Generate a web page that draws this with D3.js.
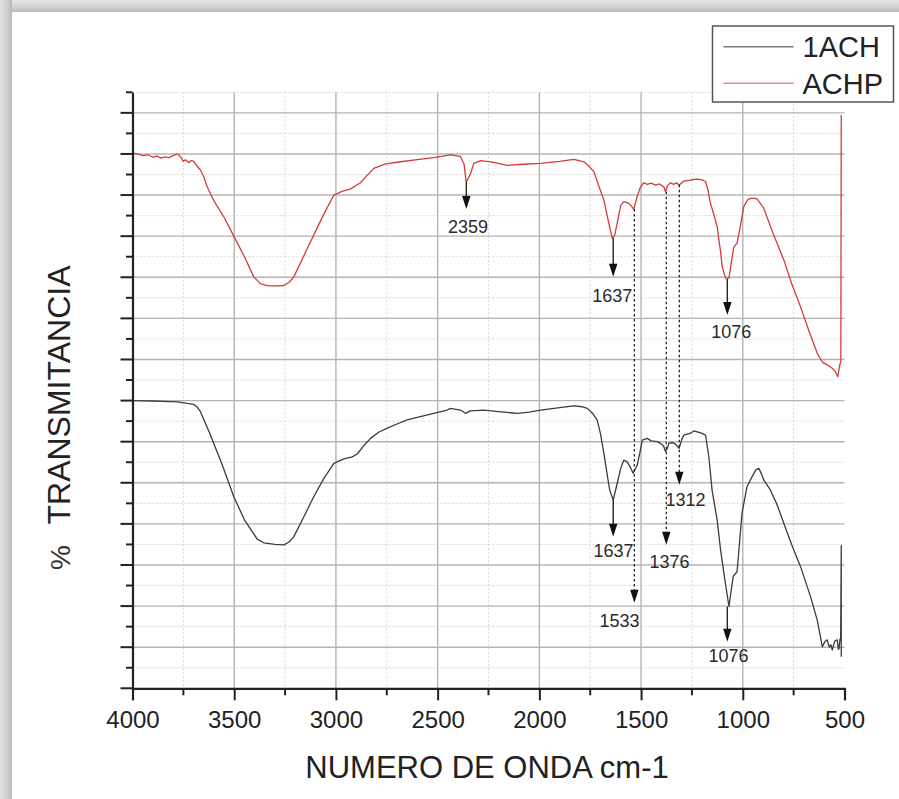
<!DOCTYPE html>
<html>
<head>
<meta charset="utf-8">
<script src="https://cdn.jsdelivr.net/npm/d3@7"></script>
<style>
  html, body { margin: 0; padding: 0; background: #fff; }
  svg { display: block; font-family: "Liberation Sans", Arial, Helvetica, sans-serif; }
</style>
</head>
<body>
<svg id="chart" width="899" height="799"></svg>
<script>
// ---- FTIR spectra: [wavenumber cm-1, transmittance (arbitrary units)] ----
const spectrumACHP = [
  [4000,130.2],[3975,130.0],[3950,129.6],[3925,129.8],[3900,129.2],[3880,129.5],[3860,129.0],
  [3840,129.3],[3820,129.1],[3800,129.6],[3780,130.0],[3765,129.4],[3750,128.2],[3740,128.6],
  [3725,127.9],[3710,128.4],[3699,128.2],[3685,127.2],[3666,126.1],[3650,124.5],[3633,122.0],
  [3600,118.6],[3550,114.6],[3502,110.0],[3450,105.0],[3404,100.1],[3370,98.4],[3330,97.9],
  [3290,97.9],[3256,98.0],[3230,98.8],[3207,100.1],[3160,105.0],[3109,110.3],[3060,115.3],
  [3010,120.0],[2970,120.9],[2928,121.5],[2879,123.0],[2850,124.6],[2814,126.5],[2760,127.5],
  [2683,128.1],[2600,128.6],[2519,129.1],[2437,129.8],[2388,129.4],[2370,127.5],[2360,123.2],
  [2350,124.0],[2340,125.0],[2322,127.7],[2289,128.4],[2230,128.0],[2158,127.2],[2080,127.5],
  [1994,127.7],[1900,128.2],[1830,128.7],[1800,128.3],[1781,128.1],[1760,127.2],[1732,125.7],
  [1710,122.5],[1683,118.8],[1660,113.5],[1642,109.5],[1630,110.2],[1620,112.5],[1600,117.5],
  [1585,118.4],[1565,118.1],[1550,117.5],[1536,116.5],[1520,119.5],[1503,122.0],[1486,123.0],
  [1470,122.6],[1450,122.9],[1430,122.4],[1410,122.7],[1388,122.0],[1380,120.8],[1370,122.3],
  [1355,123.0],[1340,122.6],[1325,123.0],[1313,122.4],[1300,123.0],[1290,123.4],[1260,123.6],
  [1240,123.8],[1224,123.9],[1200,123.7],[1183,123.3],[1170,121.0],[1159,118.0],[1142,115.2],
  [1126,112.3],[1110,106.5],[1101,102.6],[1085,99.8],[1068,99.8],[1055,104.0],[1044,107.4],
  [1028,108.3],[1010,113.0],[995,117.2],[975,118.9],[962,119.2],[940,119.2],[929,119.0],
  [897,116.8],[850,110.5],[798,104.2],[760,98.5],[716,92.8],[675,87.0],[634,81.5],[610,79.5],
  [602,79.1],[585,78.7],[569,78.2],[555,77.6],[545,77.0],[533,75.8],[523,78.7],[518,79.5],
  [516,139.5]
];

const spectrum1ACH = [
  [4000,70.0],[3900,69.9],[3850,69.8],[3780,69.7],[3731,69.3],[3699,69.1],[3680,68.3],
  [3666,67.3],[3620,62.0],[3560,54.5],[3502,46.6],[3450,41.0],[3387,36.3],[3355,35.4],
  [3300,35.0],[3256,34.9],[3230,35.6],[3207,36.9],[3160,41.5],[3109,46.6],[3060,51.0],
  [3010,54.7],[2961,55.8],[2920,56.3],[2895,57.0],[2860,59.2],[2830,60.8],[2790,62.3],
  [2748,63.3],[2700,64.3],[2650,65.3],[2550,66.5],[2453,67.7],[2437,68.1],[2388,67.7],
  [2363,66.9],[2339,67.5],[2273,67.7],[2200,67.3],[2109,66.9],[2050,67.2],[1994,67.7],
  [1900,68.3],[1830,68.7],[1790,68.5],[1765,68.1],[1740,67.0],[1716,65.3],[1700,62.0],
  [1683,57.2],[1665,51.5],[1654,48.2],[1637,45.8],[1621,49.1],[1600,53.5],[1585,55.5],
  [1568,55.1],[1550,53.5],[1539,52.3],[1519,54.3],[1505,57.5],[1494,60.4],[1470,60.8],
  [1450,60.2],[1420,60.0],[1405,59.6],[1390,59.0],[1380,57.6],[1370,58.5],[1364,59.6],
  [1345,59.8],[1331,59.4],[1313,58.4],[1300,60.5],[1290,61.6],[1260,62.0],[1240,62.6],
  [1224,62.4],[1200,62.0],[1183,61.6],[1167,56.4],[1151,48.2],[1126,40.9],[1110,34.0],
  [1093,28.0],[1068,19.9],[1055,24.5],[1047,27.2],[1028,28.4],[1015,36.0],[1004,42.6],
  [979,49.1],[954,51.5],[935,53.2],[921,53.5],[905,51.8],[897,50.7],[864,48.2],[830,44.5],
  [798,40.1],[760,35.0],[716,29.6],[667,22.3],[634,16.6],[609,10.1],[597,11.3],[585,11.8],
  [575,10.0],[567,10.6],[560,9.3],[548,11.5],[536,11.8],[530,9.5],[527,9.7],[522,12.0],
  [519,11.8],[516,34.7],[515.8,7.7]
];

// ---- Axis / legend text ----
const xMajorTicks = [4000,3500,3000,2500,2000,1500,1000,500];
const xMinorTicks = [3750,3250,2750,2250,1750,1250,750];
const yMajorTicks = d3.range(0, 146, 10);
const yMinorTicks = d3.range(5, 146, 10);
const seriesNames = ["1ACH", "ACHP"];
const xTitle = "NUMERO DE ONDA cm-1";
const yTitle = "TRANSMITANCIA";
const yUnit = "%";

// ---- Peak markers: wavenumber, arrow start/end (transmittance), label anchor ----
const peakMarks = [
  { wn: 2359, from: 123.2, to: 116.6, label: "2359", labelWn: 2351, labelT: 110.7, dotted: false },
  { wn: 1637, from: 109.6, to: 100.1, label: "1637", labelWn: 1642, labelT: 94.1, dotted: false },
  { wn: 1076, from: 99.6,  to: 90.8,  label: "1076", labelWn: 1057, labelT: 85.2, dotted: false },
  { wn: 1637, from: 45.8,  to: 36.9,  label: "1637", labelWn: 1635, labelT: 31.9, dotted: false },
  { wn: 1376, from: 120.8, to: 34.9,  label: "1376", labelWn: 1360, labelT: 29.3, dotted: true },
  { wn: 1312, from: 122.5, to: 49.5,  label: "1312", labelWn: 1282, labelT: 44.4, dotted: true },
  { wn: 1533, from: 116.6, to: 20.8,  label: "1533", labelWn: 1606, labelT: 15.0, dotted: true },
  { wn: 1076, from: 19.9,  to: 11.3,  label: "1076", labelWn: 1070, labelT: 6.4,  dotted: false }
];

const svg = d3.select("#chart");

// ---- page frame shading (top and left edges) ----
const defs = svg.append("defs");
const gTop = defs.append("linearGradient").attr("id", "shadeTop").attr("x1", 0).attr("y1", 0).attr("x2", 0).attr("y2", 1);
gTop.append("stop").attr("offset", "0%").attr("stop-color", "#e6e6e6");
gTop.append("stop").attr("offset", "55%").attr("stop-color", "#d4d4d4");
gTop.append("stop").attr("offset", "100%").attr("stop-color", "#b9b9b9");
const gLeft = defs.append("linearGradient").attr("id", "shadeLeft").attr("x1", 0).attr("y1", 0).attr("x2", 1).attr("y2", 0);
gLeft.append("stop").attr("offset", "0%").attr("stop-color", "#e2e2e2");
gLeft.append("stop").attr("offset", "55%").attr("stop-color", "#d2d2d2");
gLeft.append("stop").attr("offset", "100%").attr("stop-color", "#b9b9b9");
svg.append("rect").attr("x", 0).attr("y", 0).attr("width", 899).attr("height", 12).attr("fill", "url(#shadeTop)");
svg.append("rect").attr("x", 0).attr("y", 0).attr("width", 12).attr("height", 799).attr("fill", "url(#shadeLeft)");

// ---- scales ----
const x = d3.scaleLinear().domain([4000, 500]).range([132.5, 844.5]);
const y = d3.scaleLinear().domain([0, 145]).range([688.3, 92.3]);

// ---- grid ----
const grid = svg.append("g");
grid.selectAll(".gyMinor").data(yMinorTicks).join("line")
  .attr("x1", x(4000)).attr("x2", x(500))
  .attr("y1", d => y(d)).attr("y2", d => y(d))
  .attr("stroke", "#d6d6d6").attr("stroke-width", 1).attr("stroke-dasharray", "2,2");
grid.selectAll(".gxMinor").data(xMinorTicks).join("line")
  .attr("x1", d => x(d)).attr("x2", d => x(d))
  .attr("y1", y(145)).attr("y2", y(0))
  .attr("stroke", "#d6d6d6").attr("stroke-width", 1).attr("stroke-dasharray", "2,2");
grid.selectAll(".gyMajor").data(yMajorTicks.filter(d => d > 0)).join("line")
  .attr("x1", x(4000)).attr("x2", x(500))
  .attr("y1", d => y(d)).attr("y2", d => y(d))
  .attr("stroke", "#b4b4b4").attr("stroke-width", 1.4);
grid.selectAll(".gxMajor").data(xMajorTicks.filter(d => d !== 4000 && d !== 500)).join("line")
  .attr("x1", d => x(d)).attr("x2", d => x(d))
  .attr("y1", y(145)).attr("y2", y(0))
  .attr("stroke", "#b4b4b4").attr("stroke-width", 1.4);

// ---- spectra ----
const line = d3.line().x(d => x(d[0])).y(d => y(d[1]));
svg.append("path").datum(spectrumACHP)
  .attr("d", line).attr("fill", "none")
  .attr("stroke", "#d23c3c").attr("stroke-width", 1.3).attr("stroke-linejoin", "round");
svg.append("path").datum(spectrum1ACH)
  .attr("d", line).attr("fill", "none")
  .attr("stroke", "#3c3c3c").attr("stroke-width", 1.3).attr("stroke-linejoin", "round");

// ---- peak arrows and labels ----
const marks = svg.append("g");
peakMarks.forEach(p => {
  const px = x(p.wn), y0 = y(p.from), y1 = y(p.to);
  const headH = 13, headW = 4.2;
  marks.append("line")
    .attr("x1", px).attr("x2", px).attr("y1", y0).attr("y2", y1 - headH + 1)
    .attr("stroke", "#222").attr("stroke-width", p.dotted ? 1.3 : 1.4)
    .attr("stroke-dasharray", p.dotted ? "2.5,2.5" : null);
  marks.append("path")
    .attr("d", `M${px - headW},${y1 - headH}L${px + headW},${y1 - headH}L${px},${y1}Z`)
    .attr("fill", "#111");
  marks.append("text")
    .attr("x", x(p.labelWn)).attr("y", y(p.labelT))
    .attr("text-anchor", "middle")
    .attr("font-size", 18).attr("fill", "#2a2a2a")
    .text(p.label);
});

// ---- axes ----
const axisColor = "#222";
const yAxisMajor = svg.append("g").attr("transform", `translate(${x(4000)},0)`)
  .call(d3.axisLeft(y).tickValues(yMajorTicks.concat([145])).tickSize(0).tickFormat(""));
yAxisMajor.select(".domain").attr("stroke", axisColor).attr("stroke-width", 2.2);
svg.append("g").selectAll("line").data(yMajorTicks).join("line")
  .attr("x1", x(4000) - 12).attr("x2", x(4000))
  .attr("y1", d => y(d)).attr("y2", d => y(d))
  .attr("stroke", axisColor).attr("stroke-width", 2);
svg.append("g").selectAll("line").data(yMinorTicks).join("line")
  .attr("x1", x(4000) - 6.5).attr("x2", x(4000))
  .attr("y1", d => y(d)).attr("y2", d => y(d))
  .attr("stroke", axisColor).attr("stroke-width", 2);

const xAxis = svg.append("g").attr("transform", `translate(0,${y(0)})`)
  .call(d3.axisBottom(x).tickValues(xMajorTicks).tickSize(12).tickPadding(0).tickFormat(d3.format("d")));
xAxis.select(".domain").attr("stroke", axisColor).attr("stroke-width", 2.2);
xAxis.selectAll(".tick line").attr("stroke", axisColor).attr("stroke-width", 2);
xAxis.selectAll(".tick text")
  .attr("y", 40).attr("dy", null)
  .attr("font-size", 24).attr("fill", "#222")
  .attr("font-family", "\"Liberation Sans\", Arial, sans-serif");
svg.append("g").attr("transform", `translate(0,${y(0)})`)
  .selectAll("line").data(xMinorTicks).join("line")
  .attr("x1", d => x(d)).attr("x2", d => x(d))
  .attr("y1", 0).attr("y2", 7)
  .attr("stroke", axisColor).attr("stroke-width", 2);

// ---- axis titles ----
svg.append("text")
  .attr("x", 487).attr("y", 778)
  .attr("text-anchor", "middle").attr("font-size", 31).attr("fill", "#222")
  .text(xTitle);
svg.append("text")
  .attr("transform", "translate(70,395) rotate(-90)")
  .attr("text-anchor", "middle").attr("font-size", 32).attr("fill", "#222")
  .text(yTitle);
svg.append("text")
  .attr("transform", "translate(70,557.5) rotate(-90)")
  .attr("text-anchor", "middle").attr("font-size", 28).attr("fill", "#333")
  .text(yUnit);

// ---- legend ----
const legend = svg.append("g").attr("transform", "translate(712.5,26)");
legend.append("rect")
  .attr("width", 181).attr("height", 76)
  .attr("fill", "#fff").attr("stroke", "#555").attr("stroke-width", 1.5);
const legendColors = ["#7a7a7a", "#e08a8a"];
seriesNames.forEach((name, i) => {
  const ly = 20.7 + i * 36.6;
  legend.append("line")
    .attr("x1", 11).attr("x2", 81).attr("y1", ly).attr("y2", ly)
    .attr("stroke", legendColors[i]).attr("stroke-width", 1.5);
  legend.append("text")
    .attr("x", 90).attr("y", ly + 10.2)
    .attr("font-size", 29).attr("fill", "#222")
    .text(name);
});
</script>
</body>
</html>
